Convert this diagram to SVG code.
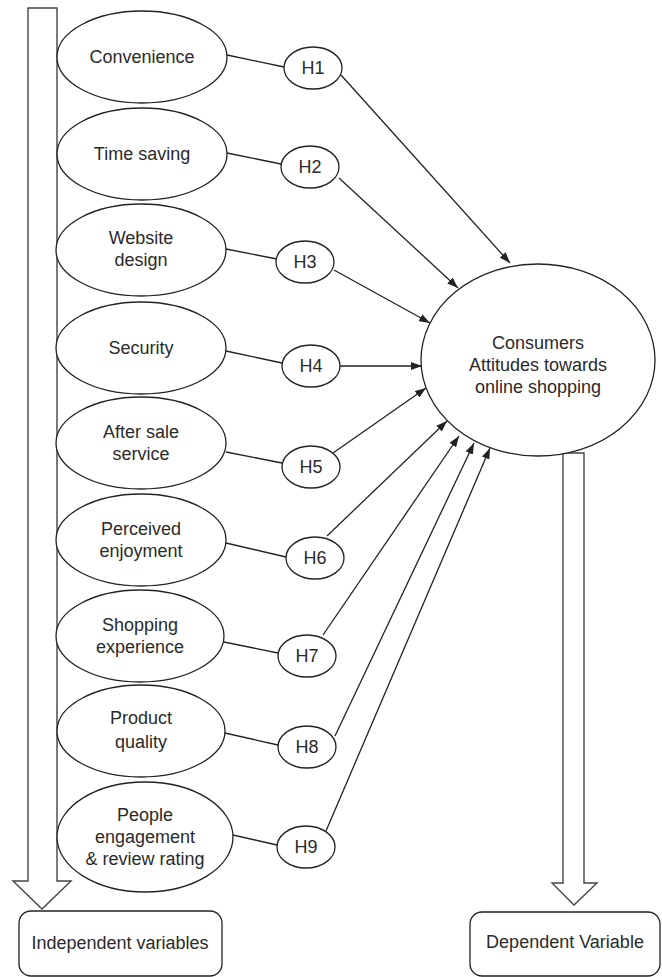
<svg xmlns="http://www.w3.org/2000/svg" width="662" height="977" viewBox="0 0 662 977">
<style>
.n{fill:#fff;stroke:#222;stroke-width:1.3}
.t{font-family:"Liberation Sans",Arial,sans-serif;font-size:18px;fill:#2a2a2a;text-anchor:middle}
.c{stroke:#222;stroke-width:1.3;fill:none}
.big{fill:#fff;stroke:#444;stroke-width:1.4}
</style>
<defs>
<marker id="ah" markerUnits="userSpaceOnUse" markerWidth="11" markerHeight="8" refX="11" refY="4" orient="auto">
<path d="M0,0 L11,4 L0,8 z" fill="#222"/>
</marker>
</defs>
<rect width="662" height="977" fill="#fff"/>
<g id="indep-arrow"><polygon class="big" points="28,8 57,8 57,881 71,881 42,909 13,881 28,881"/></g>
<g id="dep-arrow"><polygon class="big" points="563,453 584,453 584,883 597,883 574,905 552,883 563,883"/></g>
<g id="consumers"><ellipse class="n" cx="538" cy="360" rx="117" ry="96"/>
<text class="t" x="538" y="349">Consumers</text><text class="t" x="538" y="371">Attitudes towards</text><text class="t" x="538" y="393">online shopping</text></g>
<g id="convenience"><ellipse class="n" cx="142" cy="57" rx="85" ry="46"/><text class="t" x="142" y="63">Convenience</text></g>
<g id="timesaving"><ellipse class="n" cx="142" cy="154" rx="85" ry="46"/><text class="t" x="142" y="160">Time saving</text></g>
<g id="website"><ellipse class="n" cx="141" cy="250" rx="85" ry="46"/><text class="t" x="141" y="244">Website</text><text class="t" x="141" y="266">design</text></g>
<g id="security"><ellipse class="n" cx="141" cy="348" rx="85" ry="46"/><text class="t" x="141" y="354">Security</text></g>
<g id="aftersale"><ellipse class="n" cx="141" cy="443" rx="85" ry="46"/><text class="t" x="141" y="438">After sale</text><text class="t" x="141" y="460">service</text></g>
<g id="perceived"><ellipse class="n" cx="141" cy="540" rx="85" ry="46"/><text class="t" x="141" y="535">Perceived</text><text class="t" x="141" y="557">enjoyment</text></g>
<g id="shopping"><ellipse class="n" cx="140" cy="636" rx="84" ry="46"/><text class="t" x="140" y="631">Shopping</text><text class="t" x="140" y="653">experience</text></g>
<g id="product"><ellipse class="n" cx="141" cy="731" rx="84" ry="46"/><text class="t" x="141" y="724">Product</text><text class="t" x="141" y="748">quality</text></g>
<g id="people"><ellipse class="n" cx="145" cy="837" rx="88" ry="55"/><text class="t" x="145" y="821">People</text><text class="t" x="145" y="843">engagement</text><text class="t" x="145" y="865">&amp; review rating</text></g>
<g id="connectors">
<line class="c" x1="227" y1="55" x2="284" y2="67"/>
<line class="c" x1="227" y1="153" x2="281" y2="164"/>
<line class="c" x1="226" y1="249" x2="277" y2="259"/>
<line class="c" x1="226" y1="351" x2="282" y2="363"/>
<line class="c" x1="226" y1="452" x2="282" y2="463"/>
<line class="c" x1="226" y1="543" x2="286" y2="557"/>
<line class="c" x1="224" y1="642" x2="278" y2="653"/>
<line class="c" x1="225" y1="733" x2="278" y2="745"/>
<line class="c" x1="233" y1="835" x2="277" y2="845"/>
<line class="c" marker-end="url(#ah)" x1="341" y1="75" x2="510" y2="263"/>
<line class="c" marker-end="url(#ah)" x1="339" y1="178" x2="458" y2="288"/>
<line class="c" marker-end="url(#ah)" x1="334" y1="270" x2="430" y2="323"/>
<line class="c" marker-end="url(#ah)" x1="340" y1="366" x2="422" y2="366"/>
<line class="c" marker-end="url(#ah)" x1="333" y1="453" x2="426" y2="388"/>
<line class="c" marker-end="url(#ah)" x1="327" y1="536" x2="447" y2="421"/>
<line class="c" marker-end="url(#ah)" x1="323" y1="635" x2="459" y2="436"/>
<line class="c" marker-end="url(#ah)" x1="335" y1="736" x2="474" y2="443"/>
<line class="c" marker-end="url(#ah)" x1="326" y1="831" x2="490" y2="448"/>
</g>
<g id="h1"><ellipse class="n" cx="313" cy="68" rx="29" ry="21"/><text class="t" x="313" y="74">H1</text></g>
<g id="h2"><ellipse class="n" cx="310" cy="167" rx="29" ry="21"/><text class="t" x="310" y="173">H2</text></g>
<g id="h3"><ellipse class="n" cx="305" cy="262" rx="29" ry="21"/><text class="t" x="305" y="268">H3</text></g>
<g id="h4"><ellipse class="n" cx="311" cy="366" rx="29" ry="21"/><text class="t" x="311" y="372">H4</text></g>
<g id="h5"><ellipse class="n" cx="311" cy="467" rx="29" ry="21"/><text class="t" x="311" y="473">H5</text></g>
<g id="h6"><ellipse class="n" cx="315" cy="558" rx="29" ry="21"/><text class="t" x="315" y="564">H6</text></g>
<g id="h7"><ellipse class="n" cx="307" cy="656" rx="29" ry="21"/><text class="t" x="307" y="662">H7</text></g>
<g id="h8"><ellipse class="n" cx="307" cy="747" rx="29" ry="21"/><text class="t" x="307" y="753">H8</text></g>
<g id="h9"><ellipse class="n" cx="306" cy="847" rx="29" ry="21"/><text class="t" x="306" y="853">H9</text></g>
<g id="indep-box"><rect class="n" x="19" y="911" width="203" height="65" rx="12"/><text class="t" x="120" y="949">Independent variables</text></g>
<g id="dep-box"><rect class="n" x="470" y="912" width="190" height="64" rx="12"/><text class="t" x="565" y="948">Dependent Variable</text></g>
</svg>
